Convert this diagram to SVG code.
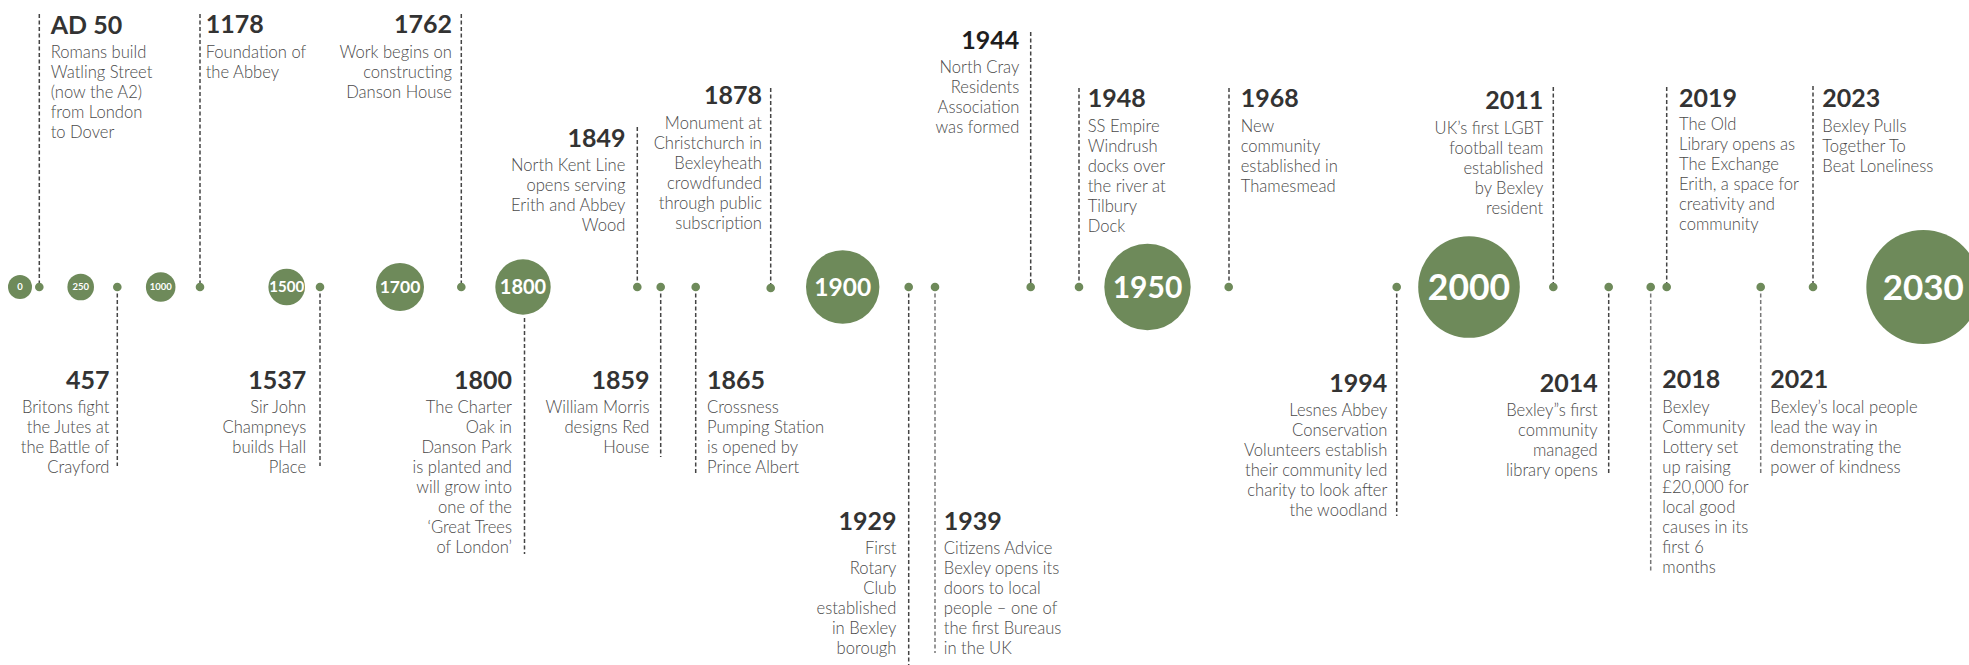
<svg xmlns="http://www.w3.org/2000/svg" width="1969" height="665" viewBox="0 0 1969 665">
<style>
.yr{font-family:Lato,"Liberation Sans",sans-serif;font-weight:700;font-size:25px;fill:#333}
.ds{font-family:Lato,"Liberation Sans",sans-serif;font-weight:300;font-size:16.6px;fill:#4a4a4a}
.r{text-anchor:end}
.ln{stroke:#444;stroke-width:1.5;stroke-dasharray:4 2.5;fill:none}
.lt{stroke:#777}
.dot{fill:#6e8a5a}
.era circle{fill:#6e8a5a}
.era text{font-family:Lato,"Liberation Sans",sans-serif;font-weight:700;fill:#fff;text-anchor:middle}
</style>
<rect width="1969" height="665" fill="#fff"/>

<g id="connectors">
<line class="ln" x1="39.3" y1="14" x2="39.3" y2="287"/>
<line class="ln" x1="200" y1="14" x2="200" y2="287"/>
<line class="ln" x1="461.3" y1="14" x2="461.3" y2="287"/>
<line class="ln" x1="637.3" y1="127" x2="637.3" y2="287"/>
<line class="ln" x1="770.7" y1="88" x2="770.7" y2="288"/>
<line class="ln" x1="1030.7" y1="32" x2="1030.7" y2="287"/>
<line class="ln" x1="1079" y1="88" x2="1079" y2="287"/>
<line class="ln" x1="1229" y1="88" x2="1229" y2="287"/>
<line class="ln" x1="1553.3" y1="87" x2="1553.3" y2="287"/>
<line class="ln" x1="1666.7" y1="87" x2="1666.7" y2="287"/>
<line class="ln" x1="1813" y1="86" x2="1813" y2="287"/>
<line class="ln" x1="117.3" y1="287" x2="117.3" y2="466"/>
<line class="ln" x1="320" y1="287" x2="320" y2="466"/>
<line class="ln" x1="524.5" y1="318" x2="524.5" y2="554"/>
<line class="ln" x1="660.7" y1="287" x2="660.7" y2="457"/>
<line class="ln" x1="695.7" y1="287" x2="695.7" y2="475"/>
<line class="ln" x1="908.7" y1="287" x2="908.7" y2="665"/>
<line class="ln lt" x1="935" y1="287" x2="935" y2="653"/>
<line class="ln" x1="1396.7" y1="287" x2="1396.7" y2="516"/>
<line class="ln" x1="1608.7" y1="287" x2="1608.7" y2="474"/>
<line class="ln lt" x1="1650.7" y1="287" x2="1650.7" y2="572"/>
<line class="ln lt" x1="1760.7" y1="287" x2="1760.7" y2="473"/>
</g>

<g id="eras" class="era">
<g id="era-0"><circle cx="20" cy="287" r="12"/><text x="20" y="290.4" font-size="9.5">0</text></g>
<g id="era-250"><circle cx="80.7" cy="287" r="13.3"/><text x="80.7" y="290.4" font-size="9.5">250</text></g>
<g id="era-1000"><circle cx="160.7" cy="287" r="14.8"/><text x="160.7" y="290.4" font-size="9.5">1000</text></g>
<g id="era-1500"><circle cx="286.7" cy="287" r="18.3"/><text x="286.7" y="292.4" font-size="15">1500</text></g>
<g id="era-1700"><circle cx="400" cy="287" r="24"/><text x="400" y="293.3" font-size="17.5">1700</text></g>
<g id="era-1800"><circle cx="523" cy="287" r="27.7"/><text x="523" y="294.2" font-size="20">1800</text></g>
<g id="era-1900"><circle cx="842.7" cy="287" r="36.7"/><text x="842.7" y="295.8" font-size="24.5">1900</text></g>
<g id="era-1950"><circle cx="1147.5" cy="287" r="43.2"/><text x="1147.5" y="297.8" font-size="30">1950</text></g>
<g id="era-2000"><circle cx="1469" cy="287" r="50.8"/><text x="1469" y="299.8" font-size="35.5">2000</text></g>
<g id="era-2030"><circle cx="1923.3" cy="287" r="57"/><text x="1923.3" y="299.6" font-size="35">2030</text></g>
</g>

<g id="ev-ad50"><circle class="dot" cx="39.3" cy="287" r="4.3"/>
<text class="yr" x="50.7" y="34">AD 50</text>
<text class="ds" x="50.7" y="58.3"><tspan x="50.7">Romans build</tspan><tspan x="50.7" dy="20">Watling Street</tspan><tspan x="50.7" dy="20">(now the A2)</tspan><tspan x="50.7" dy="20">from London</tspan><tspan x="50.7" dy="20">to Dover</tspan></text></g>

<g id="ev-457"><circle class="dot" cx="117.3" cy="287" r="4.3"/>
<text class="yr r" x="109.5" y="389.3">457</text>
<text class="ds r" y="413.3"><tspan x="109.5">Britons fight</tspan><tspan x="109.5" dy="20">the Jutes at</tspan><tspan x="109.5" dy="20">the Battle of</tspan><tspan x="109.5" dy="20">Crayford</tspan></text></g>

<g id="ev-1178"><circle class="dot" cx="200" cy="287" r="4.3"/>
<text class="yr" x="205.7" y="32.5">1178</text>
<text class="ds" y="57.5"><tspan x="205.7">Foundation of</tspan><tspan x="205.7" dy="20">the Abbey</tspan></text></g>

<g id="ev-1537"><circle class="dot" cx="320" cy="287" r="4.3"/>
<text class="yr r" x="306.2" y="389.3">1537</text>
<text class="ds r" y="413.3"><tspan x="306.2">Sir John</tspan><tspan x="306.2" dy="20">Champneys</tspan><tspan x="306.2" dy="20">builds Hall</tspan><tspan x="306.2" dy="20">Place</tspan></text></g>

<g id="ev-1762"><circle class="dot" cx="461.3" cy="287" r="4.3"/>
<text class="yr r" x="452" y="32.5">1762</text>
<text class="ds r" y="57.5"><tspan x="452">Work begins on</tspan><tspan x="452" dy="20">constructing</tspan><tspan x="452" dy="20">Danson House</tspan></text></g>

<g id="ev-1800">
<text class="yr r" x="512" y="389.3">1800</text>
<text class="ds r" y="413.3"><tspan x="512">The Charter</tspan><tspan x="512" dy="20">Oak in</tspan><tspan x="512" dy="20">Danson Park</tspan><tspan x="512" dy="20">is planted and</tspan><tspan x="512" dy="20">will grow into</tspan><tspan x="512" dy="20">one of the</tspan><tspan x="512" dy="20">‘Great Trees</tspan><tspan x="512" dy="20">of London’</tspan></text></g>

<g id="ev-1849"><circle class="dot" cx="637.3" cy="287" r="4.3"/>
<text class="yr r" x="625.4" y="146.7">1849</text>
<text class="ds r" y="170.5"><tspan x="625.4">North Kent Line</tspan><tspan x="625.4" dy="20">opens serving</tspan><tspan x="625.4" dy="20">Erith and Abbey</tspan><tspan x="625.4" dy="20">Wood</tspan></text></g>

<g id="ev-1859"><circle class="dot" cx="660.7" cy="287" r="4.3"/>
<text class="yr r" x="649.5" y="389.3">1859</text>
<text class="ds r" y="413.3"><tspan x="649.5">William Morris</tspan><tspan x="649.5" dy="20">designs Red</tspan><tspan x="649.5" dy="20">House</tspan></text></g>

<g id="ev-1865"><circle class="dot" cx="695.7" cy="287" r="4.3"/>
<text class="yr" x="707" y="389.3">1865</text>
<text class="ds" y="413.3"><tspan x="707">Crossness</tspan><tspan x="707" dy="20">Pumping Station</tspan><tspan x="707" dy="20">is opened by</tspan><tspan x="707" dy="20">Prince Albert</tspan></text></g>

<g id="ev-1878"><circle class="dot" cx="770.7" cy="288" r="4.3"/>
<text class="yr r" x="762" y="104.3">1878</text>
<text class="ds r" y="129.3"><tspan x="762">Monument at</tspan><tspan x="762" dy="20">Christchurch in</tspan><tspan x="762" dy="20">Bexleyheath</tspan><tspan x="762" dy="20">crowdfunded</tspan><tspan x="762" dy="20">through public</tspan><tspan x="762" dy="20">subscription</tspan></text></g>

<g id="ev-1929"><circle class="dot" cx="908.7" cy="287" r="4.3"/>
<text class="yr r" x="896.4" y="530">1929</text>
<text class="ds r" y="554"><tspan x="896.4">First</tspan><tspan x="896.4" dy="20">Rotary</tspan><tspan x="896.4" dy="20">Club</tspan><tspan x="896.4" dy="20">established</tspan><tspan x="896.4" dy="20">in Bexley</tspan><tspan x="896.4" dy="20">borough</tspan></text></g>

<g id="ev-1939"><circle class="dot" cx="935" cy="287" r="4.3"/>
<text class="yr" x="943.8" y="530">1939</text>
<text class="ds" y="554"><tspan x="943.8">Citizens Advice</tspan><tspan x="943.8" dy="20">Bexley opens its</tspan><tspan x="943.8" dy="20">doors to local</tspan><tspan x="943.8" dy="20">people – one of</tspan><tspan x="943.8" dy="20">the first Bureaus</tspan><tspan x="943.8" dy="20">in the UK</tspan></text></g>

<g id="ev-1944"><circle class="dot" cx="1030.7" cy="287" r="4.3"/>
<text class="yr r" x="1019.3" y="49.3" style="fill:#1e1e1e">1944</text>
<text class="ds r" y="73.3"><tspan x="1019.3">North Cray</tspan><tspan x="1019.3" dy="20">Residents</tspan><tspan x="1019.3" dy="20">Association</tspan><tspan x="1019.3" dy="20">was formed</tspan></text></g>

<g id="ev-1948"><circle class="dot" cx="1079" cy="287" r="4.3"/>
<text class="yr" x="1087.7" y="107.3">1948</text>
<text class="ds" y="131.5"><tspan x="1087.7">SS Empire</tspan><tspan x="1087.7" dy="20">Windrush</tspan><tspan x="1087.7" dy="20">docks over</tspan><tspan x="1087.7" dy="20">the river at</tspan><tspan x="1087.7" dy="20">Tilbury</tspan><tspan x="1087.7" dy="20">Dock</tspan></text></g>

<g id="ev-1968"><circle class="dot" cx="1228.7" cy="287" r="4.3"/>
<text class="yr" x="1240.7" y="107.3">1968</text>
<text class="ds" y="131.5"><tspan x="1240.7">New</tspan><tspan x="1240.7" dy="20">community</tspan><tspan x="1240.7" dy="20">established in</tspan><tspan x="1240.7" dy="20">Thamesmead</tspan></text></g>

<g id="ev-1994"><circle class="dot" cx="1396.7" cy="287" r="4.3"/>
<text class="yr r" x="1387.3" y="391.7">1994</text>
<text class="ds r" y="415.7"><tspan x="1387.3">Lesnes Abbey</tspan><tspan x="1387.3" dy="20">Conservation</tspan><tspan x="1387.3" dy="20">Volunteers establish</tspan><tspan x="1387.3" dy="20">their community led</tspan><tspan x="1387.3" dy="20">charity to look after</tspan><tspan x="1387.3" dy="20">the woodland</tspan></text></g>

<g id="ev-2011"><circle class="dot" cx="1553.3" cy="287" r="4.3"/>
<text class="yr r" x="1543.3" y="109">2011</text>
<text class="ds r" y="133.5"><tspan x="1543.3">UK’s first LGBT</tspan><tspan x="1543.3" dy="20">football team</tspan><tspan x="1543.3" dy="20">established</tspan><tspan x="1543.3" dy="20">by Bexley</tspan><tspan x="1543.3" dy="20">resident</tspan></text></g>

<g id="ev-2014"><circle class="dot" cx="1608.7" cy="287" r="4.3"/>
<text class="yr r" x="1597.7" y="391.7">2014</text>
<text class="ds r" y="415.7"><tspan x="1597.7">Bexley”s first</tspan><tspan x="1597.7" dy="20">community</tspan><tspan x="1597.7" dy="20">managed</tspan><tspan x="1597.7" dy="20">library opens</tspan></text></g>

<g id="ev-2018"><circle class="dot" cx="1650.7" cy="287" r="4.3"/>
<text class="yr" x="1662.3" y="388.3">2018</text>
<text class="ds" y="413.3"><tspan x="1662.3">Bexley</tspan><tspan x="1662.3" dy="20">Community</tspan><tspan x="1662.3" dy="20">Lottery set</tspan><tspan x="1662.3" dy="20">up raising</tspan><tspan x="1662.3" dy="20">£20,000 for</tspan><tspan x="1662.3" dy="20">local good</tspan><tspan x="1662.3" dy="20">causes in its</tspan><tspan x="1662.3" dy="20">first 6</tspan><tspan x="1662.3" dy="20">months</tspan></text></g>

<g id="ev-2019"><circle class="dot" cx="1666.7" cy="287" r="4.3"/>
<text class="yr" x="1679" y="106.7">2019</text>
<text class="ds" y="130"><tspan x="1679">The Old</tspan><tspan x="1679" dy="20">Library opens as</tspan><tspan x="1679" dy="20">The Exchange</tspan><tspan x="1679" dy="20">Erith, a space for</tspan><tspan x="1679" dy="20">creativity and</tspan><tspan x="1679" dy="20">community</tspan></text></g>

<g id="ev-2021"><circle class="dot" cx="1760.7" cy="287" r="4.3"/>
<text class="yr" x="1770.3" y="388.3">2021</text>
<text class="ds" y="413.3"><tspan x="1770.3">Bexley’s local people</tspan><tspan x="1770.3" dy="20">lead the way in</tspan><tspan x="1770.3" dy="20">demonstrating the</tspan><tspan x="1770.3" dy="20">power of kindness</tspan></text></g>

<g id="ev-2023"><circle class="dot" cx="1813" cy="287" r="4.3"/>
<text class="yr" x="1822.3" y="107.3">2023</text>
<text class="ds" y="132"><tspan x="1822.3">Bexley Pulls</tspan><tspan x="1822.3" dy="20">Together To</tspan><tspan x="1822.3" dy="20">Beat Loneliness</tspan></text></g>
</svg>
